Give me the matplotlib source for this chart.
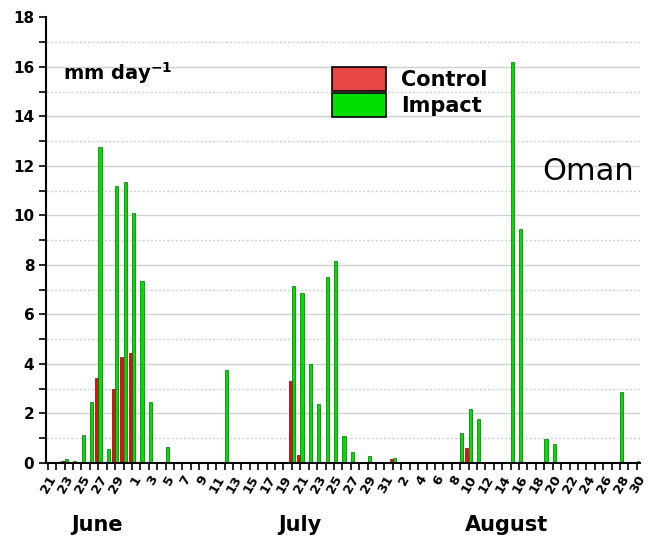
import matplotlib
matplotlib.use("Agg")
import matplotlib.pyplot as plt
import numpy as np
from matplotlib.patches import Patch

# day-of-month labels, 21 June .. 30 August
june_days = list(range(21, 31))
july_days = list(range(1, 32))
aug_days = list(range(1, 31))
day_labels = june_days + july_days + aug_days

# daily rainfall, mm/day
impact_june = [0, 0.05, 0.15, 0.1, 1.15, 2.47, 12.75, 0.55, 11.2, 11.35]
impact_july = [10.1, 7.35, 2.45, 0, 0.65, 0, 0, 0, 0, 0,
               0, 3.75, 0, 0, 0, 0, 0, 0, 0, 7.14,
               6.87, 4.0, 2.4, 7.5, 8.15, 1.1, 0.45, 0, 0.27, 0,
               0]
impact_aug = [0.22, 0, 0, 0, 0, 0, 0, 0, 1.2, 2.2,
              1.78, 0, 0, 0, 16.2, 9.45, 0, 0, 0.97, 0.75,
              0, 0, 0, 0, 0, 0, 0, 2.85, 0.03, 0.08]

control_june = [0, 0.03, 0.1, 0.05, 0, 0, 3.45, 0, 3.0, 4.3]
control_july = [4.45, 0, 0, 0, 0, 0, 0, 0, 0, 0,
                0, 0, 0, 0, 0, 0, 0, 0, 0, 3.3,
                0.33, 0, 0, 0, 0, 0, 0, 0, 0, 0,
                0]
control_aug = [0.17, 0, 0, 0, 0, 0, 0, 0, 0, 0.6,
               0, 0, 0, 0, 0, 0, 0, 0, 0, 0,
               0, 0, 0, 0, 0, 0, 0, 0, 0, 0]

impact = impact_june + impact_july + impact_aug
control = control_june + control_july + control_aug

months = ["June", "July", "August"]

x = np.arange(len(day_labels))

fig = plt.figure(figsize=(6.5, 5.39), dpi=100)
ax = fig.add_axes([0.071, 0.141, 0.914, 0.827])

# grid: solid at even values, dotted at odd
for v in range(2, 18, 2):
    ax.axhline(v, color="#d0d0d0", lw=1.0, zorder=0)
for v in range(1, 18, 2):
    ax.axhline(v, color="#d0d0d0", lw=1.0, ls=(0, (1.5, 1.5)), zorder=0)

w = 0.38
ax.bar(x - 0.2, control, width=w, color="#e01010", edgecolor="#8a0000", lw=0.5, zorder=2)
ax.bar(x + 0.2, impact, width=w, color="#00dd00", edgecolor="#006a00", lw=0.5, zorder=2)

ax.set_xlim(-0.2, 70.4)
ax.set_ylim(0, 18)
ax.set_yticks(range(0, 19, 2))
ax.set_yticks(range(1, 18, 2), minor=True)
ax.set_yticklabels([str(v) for v in range(0, 19, 2)], fontweight="bold", fontsize=11)

ax.set_xticks(x)
ax.set_xticklabels([str(d) if i % 2 == 0 else "" for i, d in enumerate(day_labels)],
                   rotation=60, ha="right", rotation_mode="anchor",
                   fontweight="bold", fontsize=9.5)
ax.tick_params(axis="x", length=5, width=1.2, pad=2)
ax.tick_params(axis="y", which="both", length=5, width=1.2)

for s in ["top", "right"]:
    ax.spines[s].set_visible(False)
for s in ["left", "bottom"]:
    ax.spines[s].set_linewidth(1.5)

ax.text(0.028, 0.875, r"mm day$^{\mathbf{-1}}$", transform=ax.transAxes,
        fontsize=14, fontweight="bold", va="center")
ax.text(0.99, 0.655, "Oman", transform=ax.transAxes, fontsize=22,
        ha="right", va="center")

handles = [Patch(facecolor="#e84545", edgecolor="black", lw=1.2, label="Control"),
           Patch(facecolor="#00dd00", edgecolor="black", lw=1.2, label="Impact")]
ax.legend(handles=handles, loc="upper left", bbox_to_anchor=(0.45, 0.93),
          frameon=False, prop={"weight": "bold", "size": 15},
          handlelength=2.6, handleheight=1.4, handletextpad=0.7, labelspacing=0.1)

for name, xpix in zip(months, [97, 300, 507]):
    fig.text(xpix / 650, 1 - 525 / 539, name, ha="center", va="center",
             fontsize=15, fontweight="bold")

fig.savefig("out.png", dpi=100)
